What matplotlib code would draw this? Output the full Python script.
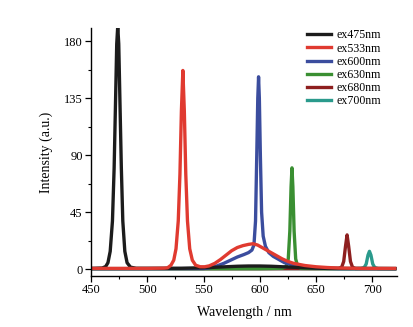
import matplotlib
matplotlib.use("Agg")
import matplotlib.pyplot as plt
from matplotlib.ticker import MultipleLocator

plt.rcParams['font.family'] = ['Liberation Serif', 'DejaVu Serif']

labels = ["ex475nm", "ex533nm", "ex600nm", "ex630nm", "ex680nm", "ex700nm"]
colors = ["#1c1c1c", "#e03a30", "#3b4d9e", "#3a8f32", "#8e1f1f", "#2a9a8c"]

wl_475 = [450, 460, 463, 465, 467, 469, 470.5, 471.8, 472.8, 473.7, 474.6, 475.6, 476.9, 478.2, 480, 482, 485, 490, 530, 550, 560, 570, 580, 590, 600, 610, 620, 630, 640, 650, 660, 680, 720]
in_475 = [0.5, 0.8, 2, 5, 14, 38, 80, 135, 178, 192, 178, 135, 80, 38, 14, 5, 1.5, 0.6, 0.6, 1.0, 1.4, 1.8, 2.2, 2.4, 2.4, 2.2, 1.8, 1.4, 1.0, 0.7, 0.5, 0.4, 0.4]

wl_533 = [450, 500, 515, 518, 521, 523.5, 525.5, 527.5, 529, 530.3, 531.6, 532.9, 534.2, 535.7, 537.7, 540, 543, 547, 551, 555, 560, 565, 570, 575, 580, 585, 590, 594, 598, 602, 606, 610, 615, 620, 625, 630, 640, 650, 660, 670, 690, 720]
in_533 = [0.5, 0.5, 0.7, 1, 3, 7, 16, 38, 75, 125, 157, 125, 75, 38, 16, 7, 3, 1.8, 1.8, 2.5, 4.5, 7.5, 11, 14.5, 17, 18.5, 19.5, 20, 19, 17, 15, 13, 10.5, 8, 6, 4.5, 2.8, 1.8, 1.2, 0.8, 0.5, 0.5]

wl_600 = [450, 500, 550, 556, 562, 568, 574, 580, 586, 590, 593, 594.8, 596.2, 597.3, 598.2, 598.9, 599.6, 600.5, 601.6, 603, 605, 608, 612, 617, 622, 628, 635, 645, 655, 670, 720]
in_600 = [0.3, 0.3, 0.4, 1, 2.5, 4.5, 7, 9.5, 11.5, 13, 15, 19, 38, 90, 135, 152, 135, 90, 45, 26, 18, 13, 10, 7.5, 5, 3.5, 2.2, 1.2, 0.6, 0.3, 0.3]

wl_630 = [450, 600, 620, 623.5, 625.3, 626.7, 627.8, 628.6, 629.4, 630.5, 631.9, 633.7, 636.5, 660, 720]
in_630 = [0.3, 0.3, 0.6, 2, 8, 30, 65, 80, 65, 30, 8, 2, 0.5, 0.3, 0.3]

wl_680 = [450, 650, 670, 672.8, 674.6, 676.2, 677.6, 679, 680.6, 682.4, 685, 720]
in_680 = [0.3, 0.3, 0.5, 1.5, 6, 18, 27, 18, 6, 1.5, 0.4, 0.3]

wl_700 = [450, 680, 690, 692.8, 694.6, 696.2, 697.5, 698.8, 700.4, 702.2, 705, 720]
in_700 = [0.3, 0.3, 0.5, 1.2, 4, 11, 14, 11, 4, 1.2, 0.4, 0.3]

series = [(wl_475, in_475), (wl_533, in_533), (wl_600, in_600),
          (wl_630, in_630), (wl_680, in_680), (wl_700, in_700)]

fig = plt.figure(figsize=(4.14, 3.27), dpi=100)
ax = fig.add_axes([0.22, 0.156, 0.739, 0.758])

order = [5, 4, 3, 2, 0, 1]
handles = {}
for i in order:
    x, y = series[i]
    h, = ax.plot(x, y, color=colors[i], lw=2.4, label=labels[i], solid_joinstyle='round')
    handles[i] = h

ax.set_xlim(450, 722)
ax.set_ylim(-5.5, 190.5)
ax.set_xticks([450, 500, 550, 600, 650, 700])
ax.xaxis.set_minor_locator(MultipleLocator(25))
ax.yaxis.set_major_locator(MultipleLocator(45))
ax.yaxis.set_minor_locator(MultipleLocator(22.5))
for s in ['top', 'right']:
    ax.spines[s].set_visible(False)
for s in ['left', 'bottom']:
    ax.spines[s].set_linewidth(1.0)
ax.tick_params(axis='both', which='major', direction='out', length=4, width=0.9, labelsize=9, pad=2)
ax.tick_params(axis='both', which='minor', direction='out', length=2.5, width=0.8)
ax.set_xlabel("Wavelength / nm", fontsize=10, labelpad=7)
ax.set_ylabel("Intensity (a.u.)", fontsize=10, labelpad=8)

ax.legend([handles[i] for i in range(6)], labels, loc='upper left', frameon=False,
          fontsize=8.6, handlelength=2.0, handletextpad=0.5, labelspacing=0.1,
          borderaxespad=0, borderpad=0,
          bbox_to_anchor=(0.706, 0.995))

fig.savefig("out.png", dpi=100)
